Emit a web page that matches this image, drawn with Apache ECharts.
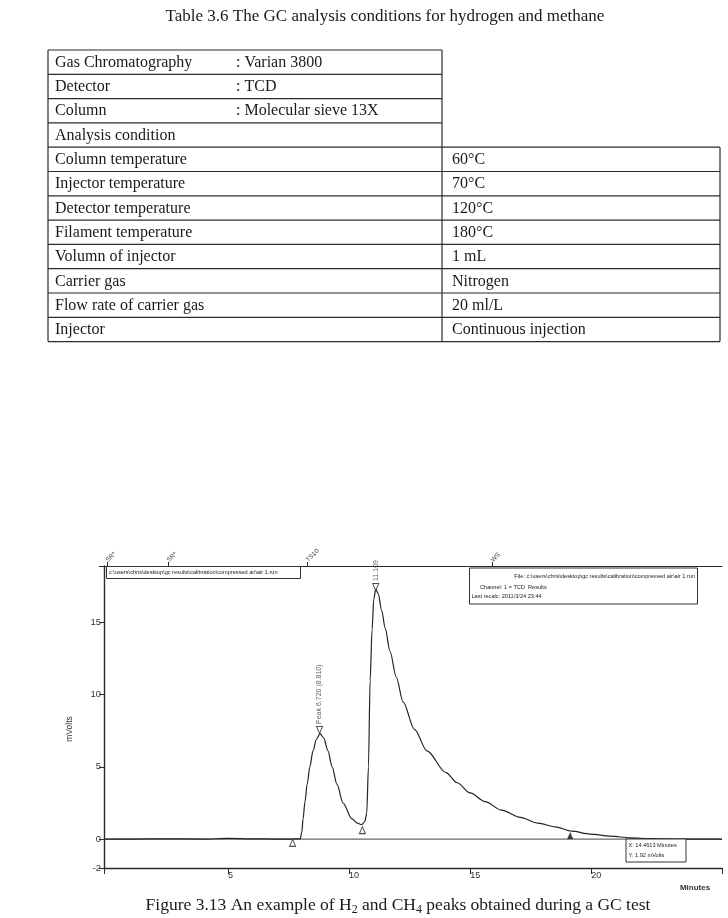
<!DOCTYPE html>
<html><head><meta charset="utf-8">
<script src="https://cdn.jsdelivr.net/npm/echarts@6/dist/echarts.min.js"></script>
<style>html,body{margin:0;padding:0;background:#fff}#c{width:728px;height:918px}</style>
</head><body><div id="c"></div>
<script>
// ---------- table content ----------
const tableTitle = 'Table 3.6 The GC analysis conditions for hydrogen and methane';
const instrumentLabels = ['Gas Chromatography', 'Detector', 'Column'];
const instrumentValues = [': Varian 3800', ': TCD', ': Molecular sieve 13X'];
const sectionLabel = 'Analysis condition';
const conditionLabels = ['Column temperature', 'Injector temperature', 'Detector temperature', 'Filament temperature', 'Volumn of injector', 'Carrier gas', 'Flow rate of carrier gas', 'Injector'];
const conditionValues = ['60°C', '70°C', '120°C', '180°C', '1 mL', 'Nitrogen', '20 ml/L', 'Continuous injection'];

// ---------- chromatogram data ----------
const timeMin = [-0.12, 1.0, 2.5, 4.0, 5.0, 6.0, 7.0, 7.6, 7.98, 8.05, 8.10, 8.18, 8.27, 8.38, 8.51, 8.65, 8.80, 8.95, 9.13, 9.30, 9.50, 9.75, 10.12, 10.35, 10.52,
  10.65, 10.73, 10.80, 10.87, 10.95, 11.02, 11.10, 11.20, 11.35, 11.49, 11.69, 11.95, 12.23, 12.7, 13.22, 14.0, 14.46, 15.0, 15.62, 16.3, 17.07, 17.8, 18.51, 19.2, 19.96, 20.8, 21.6, 22.5, 23.5, 25.4];
const mVolts = [0, 0, 0.02, 0, 0.05, 0.02, 0, 0, 0.02, 0.5, 1.4, 2.6, 3.8, 5.0, 6.1, 6.9, 7.3, 7.0, 6.1, 5.0, 3.8, 2.5, 1.4, 1.1, 1.0,
  1.2, 1.8, 5.0, 11.0, 14.5, 16.6, 17.3, 17.0, 15.8, 14.6, 13.0, 11.2, 9.5, 7.6, 6.1, 4.6, 3.9, 3.2, 2.6, 2.0, 1.5, 1.1, 0.85, 0.55, 0.35, 0.2, 0.09, 0.03, 0, 0];
const baselineTimes = [-0.12, 25.4];
const yTicks = [-2, 0, 5, 10, 15];
const xTicks = [5, 10, 15, 20];
const eventTimes = [0.0, 2.52, 8.26, 15.9];
const eventLabels = ['SR*', 'SR*', 'TS10', 'WS'];
const peakStartMarks = [[7.67, -0.26], [10.55, 0.62]];
const peakEndMarks = [[19.13, 0.25]];
const apexTimes = [8.78, 11.1];
const apexValues = [7.55, 17.45];
const apexLabels = ['Peak 6.720 (8.810)', '11.109'];
const caption = ['Figure 3.13 An example of H', '2', ' and CH', '4', ' peaks obtained during a GC test'];

// ---------- layout ----------
const serif = '"Liberation Serif", "Times New Roman", serif';
const sans = '"Liberation Sans", Arial, sans-serif';
const T = { x0: 48, xMid: 442, x1: 720, y0: 50, rowH: 24.3 };
const ink = '#1a1a1a';

const g = [];
g.push({ type: 'text', x: 385, y: 17, style: { text: tableTitle, font: '17px ' + serif, fill: ink, align: 'center', verticalAlign: 'middle' } });

const allRows = [];
instrumentLabels.forEach((l, i) => allRows.push({ l, v: instrumentValues[i], top: true }));
allRows.push({ l: sectionLabel, v: '', top: true });
conditionLabels.forEach((l, i) => allRows.push({ l, v: conditionValues[i], top: false }));
const nRows = allRows.length;
const yBottom = T.y0 + nRows * T.rowH;
const lineStyle = { stroke: '#2b2b2b', lineWidth: 1.2 };
for (let i = 0; i <= nRows; i++) {
  const y = T.y0 + i * T.rowH;
  const full = i >= 4;
  g.push({ type: 'line', shape: { x1: T.x0, y1: y, x2: full ? T.x1 : T.xMid, y2: y }, style: lineStyle });
}
g.push({ type: 'line', shape: { x1: T.x0, y1: T.y0, x2: T.x0, y2: yBottom }, style: lineStyle });
g.push({ type: 'line', shape: { x1: T.xMid, y1: T.y0, x2: T.xMid, y2: yBottom }, style: lineStyle });
g.push({ type: 'line', shape: { x1: T.x1, y1: T.y0 + 4 * T.rowH, x2: T.x1, y2: yBottom }, style: lineStyle });
allRows.forEach((r, i) => {
  const cy = T.y0 + i * T.rowH + T.rowH / 2 + 0.5;
  g.push({ type: 'text', x: 55, y: cy, style: { text: r.l, font: '16px ' + serif, fill: ink, verticalAlign: 'middle' } });
  if (r.v) {
    g.push({ type: 'text', x: r.top ? 236 : 452, y: cy, style: { text: r.v, font: '16px ' + serif, fill: ink, verticalAlign: 'middle' } });
  }
});

// annotation boxes inside the chromatogram
function box(x, y, w, h) {
  g.push({ type: 'rect', shape: { x, y, width: w, height: h }, style: { fill: '#fff', stroke: '#333', lineWidth: 1 }, z: 50 });
}
function small(txt, x, y, align) {
  g.push({ type: 'text', x, y, z: 51, style: { text: txt, font: '5.6px ' + sans, fill: '#222', align: align || 'left', verticalAlign: 'middle' } });
}
box(106.5, 566.5, 194, 12);
small('c:\\users\\chris\\desktop\\gc results\\calibration\\compressed air\\air 1.run', 109, 572.5);
box(469.5, 568, 228, 36);
small('File: c:\\users\\chris\\desktop\\gc results\\calibration\\compressed air\\air 1.run', 695, 576, 'right');
small('Channel: 1 = TCD  Results', 480, 587);
small('Last recalc: 2011/3/24 23:44', 471.5, 596.5);
box(626, 839, 60, 23);
small('X: 14.4613 Minutes', 628.5, 845.5);
small('Y: 1.92 mVolts', 628.5, 855.5);
g.push({ type: 'text', x: 695, y: 888, style: { text: 'Minutes', font: 'bold 8px ' + sans, fill: '#333', align: 'center', verticalAlign: 'middle' } });
g.push({ type: 'text', x: 70, y: 729, rotation: Math.PI / 2, style: { text: 'mVolts', font: '8.5px ' + sans, fill: '#333', align: 'center', verticalAlign: 'middle' } });

// caption with subscripts
g.push({
  type: 'text', x: 398, y: 905,
  style: {
    text: caption.map((s, i) => (i % 2 ? '{s|' + s + '}' : '{a|' + s + '}')).join(''),
    align: 'center', verticalAlign: 'middle', fill: ink,
    rich: {
      a: { font: '17.5px ' + serif, fill: ink, lineHeight: 22, verticalAlign: 'middle' },
      s: { font: '12px ' + serif, fill: ink, lineHeight: 22, verticalAlign: 'bottom' }
    }
  }
});

const axisInk = '#2a2a2a';
const chart = echarts.init(document.getElementById('c'), null, { renderer: 'canvas' });
chart.setOption({
  backgroundColor: '#fff',
  animation: false,
  grid: { left: 104, right: 6, top: 566, bottom: 50, containLabel: false },
  xAxis: [{
    type: 'value', min: -0.12, max: 25.4, position: 'bottom',
    axisLine: { show: true, onZero: false, lineStyle: { color: axisInk, width: 1.4 } },
    axisTick: { show: true, customValues: [-0.12].concat(xTicks, [25.4]), length: 6, lineStyle: { color: axisInk, width: 1 } },
    axisLabel: { customValues: xTicks, align: 'left', margin: 3, fontSize: 9, fontFamily: sans, color: '#333' },
    splitLine: { show: false }
  }, {
    type: 'value', min: -0.12, max: 25.4, position: 'top',
    axisLine: { show: true, onZero: false, lineStyle: { color: axisInk, width: 1.2 } },
    axisTick: { show: true, customValues: eventTimes, length: 4, lineStyle: { color: axisInk } },
    axisLabel: { customValues: eventTimes, rotate: -45, align: 'left', verticalAlign: 'middle', margin: 5, fontSize: 6.5, fontFamily: sans, color: '#444',
      formatter: v => eventLabels[eventTimes.indexOf(v)] || '' },
    splitLine: { show: false }
  }],
  yAxis: {
    type: 'value', min: -2, max: 18.9,
    axisLine: { show: true, onZero: false, lineStyle: { color: axisInk, width: 1.4 } },
    axisTick: { show: true, customValues: yTicks.concat([18.9]), length: 5, lineStyle: { color: axisInk } },
    axisLabel: { customValues: yTicks, margin: 3, fontSize: 9.5, fontFamily: sans, color: '#333' },
    splitLine: { show: false }
  },
  series: [{
    type: 'line', name: 'baseline', data: baselineTimes.map(t => [t, 0]), showSymbol: false,
    lineStyle: { color: '#444', width: 1 }, z: 2
  }, {
    type: 'line', name: 'TCD', data: timeMin.map((t, i) => [t, mVolts[i]]), showSymbol: false,
    smooth: 0.3, smoothMonotone: 'x', lineStyle: { color: '#222', width: 1.2 }, z: 3
  }, {
    type: 'scatter', data: peakStartMarks, symbol: 'triangle', symbolSize: [6, 7],
    itemStyle: { color: '#fff', borderColor: '#222', borderWidth: 1 }, z: 4
  }, {
    type: 'scatter', data: peakEndMarks, symbol: 'triangle', symbolSize: [6, 7],
    itemStyle: { color: '#111' }, z: 4
  }, {
    type: 'scatter', data: apexTimes.map((t, i) => [t, apexValues[i], apexLabels[i]]),
    symbol: 'triangle', symbolRotate: 180, symbolSize: [6, 7],
    itemStyle: { color: '#fff', borderColor: '#222', borderWidth: 1 }, z: 4,
    label: { show: true, formatter: p => p.data[2], rotate: 90, position: 'top', distance: 2,
      align: 'left', verticalAlign: 'middle', fontSize: 7, fontFamily: sans, color: '#333' }
  }],
  graphic: g
});
</script></body></html>
